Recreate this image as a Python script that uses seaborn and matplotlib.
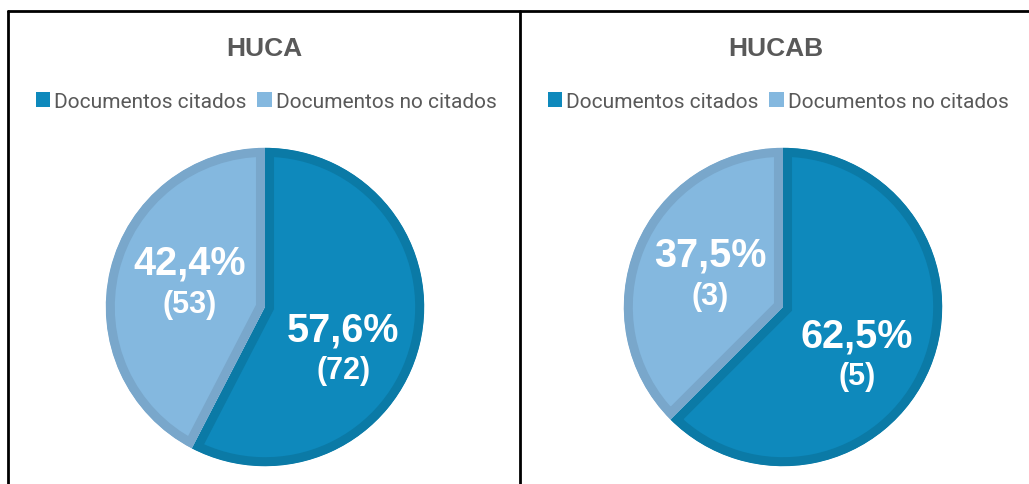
import numpy as np
import matplotlib
matplotlib.use("Agg")
import matplotlib.pyplot as plt
import seaborn as sns
from matplotlib.patches import Patch
from matplotlib.lines import Line2D

# ---- data ----
hospitals = ["HUCA", "HUCAB"]
categories = ["Documentos citados", "Documentos no citados"]
huca_counts = [72, 53]
hucab_counts = [5, 3]

# ---- style ----
sns.set_theme(style="white")
plt.rcParams['font.family'] = ['Liberation Sans', 'DejaVu Sans']

fill_colors = sns.color_palette(["#0E89BC", "#84B8DF"])
edge_colors = sns.color_palette(["#0B7AA6", "#79A7CB"])
text_gray = "#595959"

# label placement (radius fraction, angular offset from wedge mid in degrees)
label_r = [[0.56, 0.50], [0.555, 0.50]]
label_dang = [[-15, -4], [-11, -1]]

W, H = 1029, 485
fig = plt.figure(figsize=(W / 100, H / 100), dpi=100)
fig.patch.set_facecolor("white")

pie_centers_px = [(265, 308), (783, 308)]
pie_radius_px = 160
panel_centers_px = [264, 776]

for i, (name, counts) in enumerate(zip(hospitals, [huca_counts, hucab_counts])):
    cx, cy = pie_centers_px[i]
    r = pie_radius_px
    ax = fig.add_axes([(cx - r) / W, (H - cy - r) / H, 2 * r / W, 2 * r / H])
    wedges, _ = ax.pie(counts, colors=fill_colors, startangle=90,
                       counterclock=False, radius=1.0,
                       wedgeprops=dict(linewidth=13, joinstyle="miter"))
    for w, ec in zip(wedges, edge_colors):
        w.set_edgecolor(ec)
        w.set_clip_on(True)
        w.set_clip_path(w)
    ax.set_xlim(-1.005, 1.005)
    ax.set_ylim(-1.005, 1.005)
    ax.set_aspect("auto")
    ax.axis("off")

    total = sum(counts)
    for j, (w, c) in enumerate(zip(wedges, counts)):
        mid = np.deg2rad((w.theta1 + w.theta2) / 2 + label_dang[i][j])
        rr = label_r[i][j]
        x, y = rr * np.cos(mid), rr * np.sin(mid)
        pct = f"{100 * c / total:.1f}%".replace(".", ",")
        ax.text(x, y + 0.13, pct, ha="center", va="center", color="white",
                fontsize=28.5, fontweight="bold")
        ax.text(x, y - 0.13, f"({c})", ha="center", va="center", color="white",
                fontsize=22, fontweight="bold")

    # title
    fig.text(panel_centers_px[i] / W, 1 - 49 / H, name, ha="center", va="center",
             fontsize=19, fontweight="bold", color=text_gray)
    # legend
    handles = [Patch(facecolor=fill_colors[k], edgecolor="none") for k in range(2)]
    leg = fig.legend(handles, categories, loc="center",
                     bbox_to_anchor=(panel_centers_px[i] / W + 0.002, 1 - 102 / H),
                     ncol=2, frameon=False, handlelength=0.7, handleheight=0.7,
                     handletextpad=0.2, columnspacing=0.5,
                     prop={"family": "Roboto", "size": 15})
    for t in leg.get_texts():
        t.set_color(text_gray)

# panel borders
lw = 2
fig.add_artist(Line2D([8 / W, 1.0], [1 - 12 / H, 1 - 12 / H], color="black", lw=lw,
                      transform=fig.transFigure))
for xp in [8, 520]:
    fig.add_artist(Line2D([xp / W, xp / W], [0, 1 - 12 / H], color="black", lw=lw,
                          transform=fig.transFigure))

fig.savefig("out.png", dpi=100, facecolor="white")
